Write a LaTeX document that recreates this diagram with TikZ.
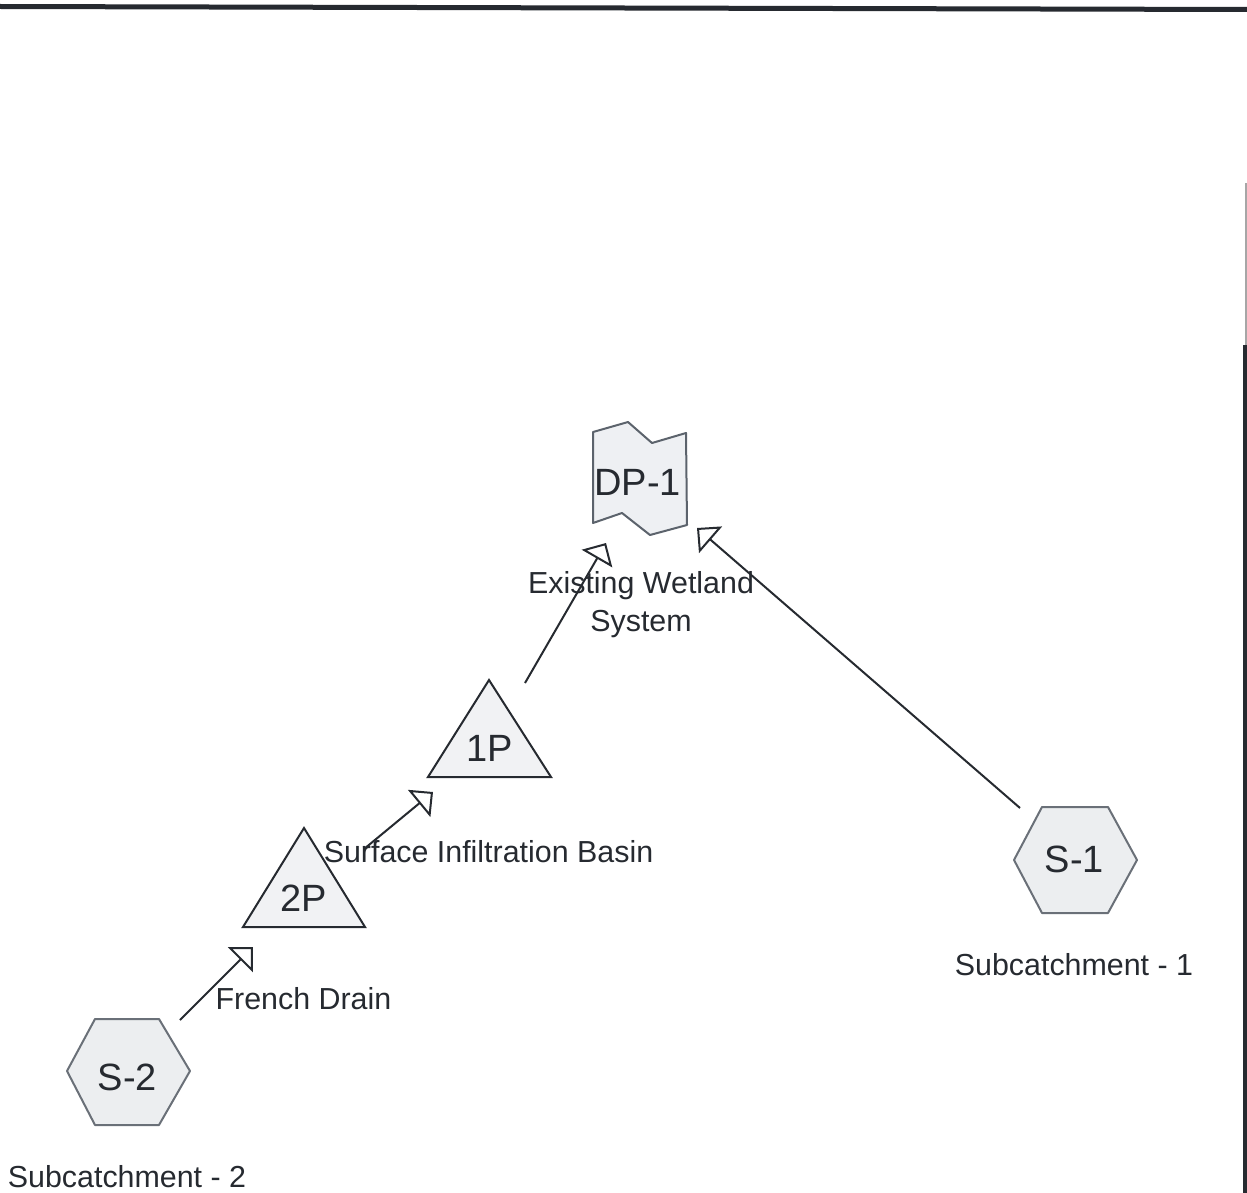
\documentclass[tikz,border=0pt]{standalone}
\usepackage{fontspec}
\setmainfont{Liberation Sans}
\usetikzlibrary{arrows.meta}
\definecolor{ink}{HTML}{262A30}
\definecolor{pondfill}{HTML}{F1F2F4}
\definecolor{subfill}{HTML}{ECEEF0}
\definecolor{subedge}{HTML}{6A7078}
\definecolor{reachfill}{HTML}{EEF0F3}
\definecolor{reachedge}{HTML}{5C636C}
\tikzset{
  pond/.style={draw=ink, fill=pondfill, line width=2pt, line join=miter},
  subcat/.style={draw=subedge, fill=subfill, line width=2pt, line join=round},
  reach/.style={draw=reachedge, fill=reachfill, line width=2pt, line join=round},
  idtext/.style={text=ink, inner sep=0pt, anchor=base, font=\fontsize{38}{40}\selectfont},
  lbl/.style={text=ink, inner sep=0pt, anchor=base, align=center, font=\fontsize{30.4}{38}\selectfont},
  flow/.style={draw=ink, line width=2pt,
    -{Triangle[fill=white, length=18pt, width=35pt, line join=miter]}},
}
\begin{document}
\begin{tikzpicture}[x=1pt, y=-1pt]
\useasboundingbox (0,0) rectangle (1247,1193);

% frame edges
\draw[ink, line width=5pt] (0,6.5) -- (1247,9.5);
\draw[gray!70, line width=1.2pt] (1246,183) -- (1246,345);
\draw[ink, line width=4pt] (1245,345) -- (1245,1193);

% reach DP-1
\draw[reach] (593,432) -- (628,422) -- (652,443) -- (686,433)
  -- (687,525) -- (650,535) -- (622,513) -- (593,523) -- cycle;
\node[idtext] (dp1) at (637.5,495) {DP-1};

% ponds
\draw[pond] (489,680) -- (551,777) -- (428,777) -- cycle;
\node[idtext] (p1) at (489.5,761) {1P};
\draw[pond] (304,828) -- (365,927) -- (243,927) -- cycle;
\node[idtext] (p2) at (304,911) {2P};

% subcatchments
\draw[subcat] (67,1071) -- (95,1019) -- (159,1019) -- (190,1071)
  -- (159,1125) -- (95,1125) -- cycle;
\node[idtext] (s2) at (127.5,1090) {S-2};
\draw[subcat] (1014,860) -- (1042,807) -- (1108,807) -- (1137,860)
  -- (1108,913) -- (1042,913) -- cycle;
\node[idtext] (s1) at (1074.5,872) {S-1};

% labels (base anchor sits on the last line)
\node[lbl] (lwet) at (641,631) {Existing Wetland\\System};
\node[lbl] (lbas) at (488.5,862) {Surface Infiltration Basin};
\node[lbl] (lfd) at (303.5,1009) {French Drain};
\node[lbl] (ls1) at (1074,975) {Subcatchment - 1};
\node[lbl] (ls2) at (127,1187) {Subcatchment - 2};

% connector ends
\coordinate (s2out) at (180,1020);
\coordinate (p2in) at (253,947);
\coordinate (p2out) at (364,849);
\coordinate (p1in) at (433,792);
\coordinate (p1out) at (525,683);
\coordinate (dpinA) at (606,543);
\coordinate (s1out) at (1020,808);
\coordinate (dpinB) at (697,528);

% flow paths
\draw[flow] (s2out) -- (p2in);
\draw[flow] (p2out) -- (p1in);
\draw[flow] (p1out) -- (dpinA);
\draw[flow] (s1out) -- (dpinB);
\end{tikzpicture}
\end{document}
